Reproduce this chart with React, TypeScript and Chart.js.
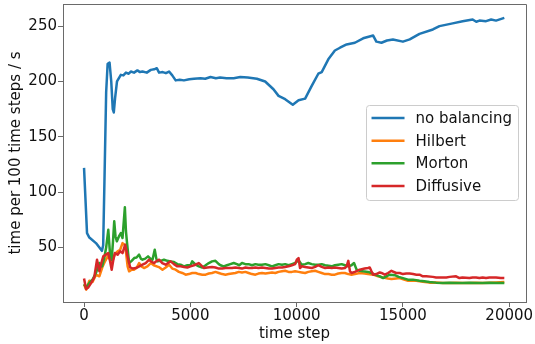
import React, { useEffect, useRef } from "react";
import { Chart, registerables } from "chart.js";

Chart.register(...registerables);

const xTicks = [0, 5000, 10000, 15000, 20000];
const yTicks = [50, 100, 150, 200, 250];
const seriesLabels = ["no balancing", "Hilbert", "Morton", "Diffusive"];
const seriesColors = ["#1f77b4", "#ff7f0e", "#2ca02c", "#d62728"];

const noBalancingSteps = [0, 140, 250, 560, 840, 900, 960, 1040, 1110, 1200, 1280, 1350, 1400, 1460, 1550, 1730, 1850, 1970, 2100, 2200, 2350, 2510, 2630, 2750, 2950, 3140, 3300, 3420, 3530, 3700, 3850, 4000, 4150, 4310, 4500, 4700, 4950, 5170, 5480, 5700, 5950, 6200, 6400, 6700, 7040, 7350, 7700, 8130, 8520, 8910, 9150, 9460, 9820, 10090, 10400, 10710, 11020, 11180, 11490, 11800, 12040, 12350, 12740, 13130, 13600, 13750, 13990, 14250, 14530, 15000, 15320, 15780, 16410, 16720, 17340, 17810, 18280, 18450, 18600, 18910, 19150, 19380, 19770];
const noBalancingTimes = [122, 63, 59, 54, 47, 52, 110, 190, 216, 217, 200, 175, 172, 185, 200, 206, 205.5, 208, 207, 209, 208, 210, 208.5, 209, 208, 210.5, 211, 212, 208, 208.5, 207.5, 209, 205.5, 201, 201.5, 201, 202, 202.5, 203, 202.5, 204, 203, 203.5, 203, 203, 204, 203.5, 202.5, 200, 193, 187, 184, 179, 183, 184.5, 196, 207, 208.5, 220, 228, 230.5, 233.5, 235, 239, 241.5, 236, 235, 237, 238, 236, 238, 243, 247, 250, 252.5, 254.5, 256, 254, 255, 254.5, 256, 255, 257.5];

const hilbertSteps = [0, 100, 250, 400, 560, 720, 875, 1000, 1110, 1200, 1300, 1450, 1580, 1700, 1810, 1935, 2050, 2120, 2240, 2360, 2480, 2590, 2700, 2820, 2980, 3140, 3280, 3420, 3550, 3690, 3840, 4000, 4150, 4310, 4460, 4620, 4780, 4930, 5090, 5250, 5400, 5560, 5720, 5870, 6020, 6180, 6340, 6500, 6650, 6800, 6960, 7120, 7280, 7430, 7590, 7740, 7900, 8060, 8200, 8370, 8530, 8690, 8840, 9000, 9150, 9310, 9460, 9620, 9780, 9930, 10090, 10240, 10400, 10550, 10710, 10870, 11020, 11180, 11340, 11500, 11650, 11800, 11960, 12120, 12270, 12430, 12580, 12740, 12970, 13200, 13360, 13600, 13830, 14070, 14300, 14460, 14680, 14850, 15050, 15240, 15450, 15630, 15940, 16250, 16560, 16880, 17190, 17500, 17800, 18130, 18440, 18750, 19070, 19380, 19770];
const hilbertTimes = [16.5, 12, 20, 19, 25.5, 24, 33, 38, 42, 40, 36, 44, 46.6, 48, 54, 52, 33, 28.5, 30, 30, 32, 36, 33, 31.5, 33, 36, 34, 33, 32, 30, 32, 34.5, 31, 30, 28, 27, 25.5, 26, 27, 27, 26, 25.5, 25.5, 26.5, 27, 28, 27, 26, 25.5, 26, 26.5, 27, 28, 27.5, 28, 27, 26, 25.5, 26.5, 27, 26.5, 27, 27.5, 27, 28, 28.5, 29, 28, 28, 28.5, 28, 27.5, 27, 28, 28.5, 29, 28, 27, 26, 26, 25.5, 25.5, 26.5, 27, 27, 26, 25.5, 26, 27, 26.5, 26, 25.5, 24, 23, 22, 21.5, 22, 22.4, 21, 20, 20, 20, 19, 18.3, 18.5, 18, 18, 18.2, 18, 18, 18.2, 18, 18.3, 18.5, 18.8];

const mortonSteps = [0, 100, 250, 400, 560, 720, 850, 950, 1040, 1140, 1220, 1300, 1360, 1420, 1480, 1545, 1640, 1730, 1810, 1920, 1970, 2015, 2120, 2240, 2360, 2470, 2590, 2670, 2750, 2880, 3010, 3120, 3220, 3325, 3400, 3450, 3600, 3760, 3920, 4070, 4230, 4390, 4540, 4700, 4860, 5010, 5090, 5250, 5400, 5560, 5720, 5870, 6020, 6180, 6340, 6420, 6570, 6720, 6880, 7040, 7190, 7300, 7430, 7590, 7740, 7900, 8060, 8200, 8370, 8530, 8690, 8840, 9000, 9150, 9310, 9460, 9620, 9780, 9930, 10090, 10240, 10400, 10550, 10710, 10870, 11020, 11180, 11340, 11500, 11650, 11800, 11960, 12120, 12270, 12430, 12580, 12700, 12820, 12970, 13130, 13360, 13520, 13680, 13910, 14070, 14220, 14380, 14620, 14800, 15000, 15240, 15470, 15780, 16000, 16250, 16560, 16880, 17190, 17500, 17810, 18130, 18440, 18750, 19070, 19380, 19770];
const mortonTimes = [17, 14, 18, 21, 27, 36, 33, 40.5, 50, 66, 45, 39, 55, 73.7, 60, 55.6, 60, 63, 58.6, 86.3, 65, 55.6, 36, 38, 40.5, 41, 43.6, 40, 39, 40, 42, 40, 39, 48, 40, 37.5, 38, 39, 38, 37.5, 37, 35, 34.5, 33, 34, 34, 37.5, 34.5, 33, 32, 34, 36, 37.5, 38, 35, 34, 33, 34, 35, 36, 35, 34, 36, 35, 35, 34, 35, 34.5, 34.5, 35, 34, 33, 34, 35, 34.5, 35, 34, 35, 36, 38.5, 34.5, 35, 36, 35, 34.5, 34.5, 35, 34, 33.5, 33, 34, 34.5, 35, 34, 33, 34, 36, 30, 29, 28.5, 28, 27, 25.5, 24, 22.4, 24, 25.5, 25, 23.5, 22.4, 21, 21, 20, 19.5, 18.8, 18.3, 18, 18.3, 18, 18, 18.2, 18, 18, 18.2, 18, 18];

const diffusiveSteps = [0, 95, 200, 330, 480, 610, 720, 800, 905, 1030, 1140, 1220, 1300, 1370, 1450, 1580, 1700, 1810, 1935, 2050, 2170, 2300, 2440, 2600, 2750, 2900, 3060, 3180, 3300, 3420, 3530, 3680, 3840, 3950, 4070, 4230, 4390, 4540, 4700, 4860, 5010, 5170, 5400, 5560, 5640, 5800, 6020, 6180, 6340, 6500, 6650, 6800, 6960, 7120, 7280, 7430, 7590, 7740, 7900, 8060, 8200, 8370, 8530, 8690, 8840, 9000, 9150, 9310, 9460, 9620, 9780, 9930, 10010, 10090, 10160, 10240, 10400, 10550, 10710, 10870, 11020, 11180, 11340, 11500, 11650, 11800, 11960, 12120, 12270, 12350, 12430, 12510, 12580, 12740, 12970, 13200, 13360, 13440, 13520, 13600, 13750, 13910, 13990, 14150, 14300, 14460, 14680, 14850, 15000, 15160, 15320, 15480, 15630, 15780, 15940, 16100, 16410, 16560, 16880, 17040, 17200, 17500, 17660, 17800, 18130, 18280, 18440, 18600, 18750, 18910, 19070, 19380, 19600, 19770];
const diffusiveTimes = [22, 12.5, 14, 17.9, 23, 39, 28.5, 35, 42, 43.6, 45, 38, 30, 38, 45, 43.6, 46.6, 45, 52.6, 42, 32, 31, 31.5, 33, 34.5, 36, 39, 37, 36, 38, 39, 36, 34.5, 36, 37.5, 35, 33, 33, 32.5, 32, 33, 34, 36, 33, 31.5, 32, 32.5, 32, 31, 31, 31.5, 31.5, 31.5, 32, 31.5, 31, 32, 31.5, 31.5, 32, 31.5, 32, 31.5, 31, 31, 31.5, 32, 32, 32.5, 33, 34, 35, 39, 40.5, 31.5, 33, 32.5, 32, 31.5, 32.5, 34, 32.5, 31.5, 32, 31.5, 32, 31.5, 31, 31.5, 33, 38, 28.5, 27, 28, 30, 31, 31.5, 32, 28.5, 25.5, 26, 27.5, 27, 25.5, 27, 29, 27, 27, 26, 26.5, 26.5, 26, 25.5, 25.5, 24, 24, 23.5, 23, 23, 23, 23.5, 24, 22.4, 23, 22.4, 23, 23, 22.5, 23, 22.4, 23, 23, 22.5, 22.4];

const xMin = -990;
const xMax = 20790;
const yMin = 0.8;
const yMax = 270;

const FONT = "'DejaVu Sans', sans-serif";
const SPINE = "#6a6a6a";
const LINE_W = 2.5;

const toPoints = (steps: number[], times: number[]) =>
  steps.map((s, i) => ({ x: s, y: times[i] }));

const frameAndLegend = {
  id: "frameAndLegend",
  afterDatasetsDraw(chart: any) {
    const { ctx, chartArea } = chart;
    ctx.save();
    ctx.strokeStyle = SPINE;
    ctx.lineWidth = 1;
    ctx.beginPath();
    ctx.moveTo(Math.round(chartArea.left) + 0.5, Math.round(chartArea.top) + 0.5);
    ctx.lineTo(Math.round(chartArea.right) + 0.5, Math.round(chartArea.top) + 0.5);
    ctx.lineTo(Math.round(chartArea.right) + 0.5, Math.round(chartArea.bottom) + 0.5);
    ctx.stroke();

    ctx.font = `15px ${FONT}`;
    const labels: string[] = chart.data.datasets.map((d: any) => d.label);
    const colors: string[] = chart.data.datasets.map((d: any) => d.borderColor);
    const maxW = Math.max(...labels.map((l) => ctx.measureText(l).width));
    const padL = 6, handle = 33, gap = 11, padR = 6;
    const rowH = 22.7, padT = 13, padB = 14;
    const boxW = padL + handle + gap + maxW + padR;
    const boxH = padT + rowH * (labels.length - 1) + padB;
    const right = chartArea.right - 8;
    const left = right - boxW;
    const top = (chartArea.top + chartArea.bottom) / 2 - boxH / 2 - 0.5;
    ctx.beginPath();
    if ((ctx as any).roundRect) {
      (ctx as any).roundRect(Math.round(left) + 0.5, Math.round(top) + 0.5, Math.round(boxW), Math.round(boxH), 3);
    } else {
      ctx.rect(Math.round(left) + 0.5, Math.round(top) + 0.5, Math.round(boxW), Math.round(boxH));
    }
    ctx.fillStyle = "rgba(255,255,255,0.8)";
    ctx.fill();
    ctx.strokeStyle = "#cccccc";
    ctx.lineWidth = 1;
    ctx.stroke();
    labels.forEach((label, i) => {
      const y = top + padT + i * rowH;
      ctx.strokeStyle = colors[i];
      ctx.lineWidth = LINE_W;
      ctx.lineCap = "butt";
      ctx.beginPath();
      ctx.moveTo(left + padL, y);
      ctx.lineTo(left + padL + handle, y);
      ctx.stroke();
      ctx.fillStyle = "#111";
      ctx.textAlign = "left";
      ctx.textBaseline = "middle";
      ctx.fillText(label, left + padL + handle + gap, y + 1);
    });
    ctx.restore();
  },
};

export default function App() {
  const canvasRef = useRef<HTMLCanvasElement | null>(null);

  useEffect(() => {
    const canvas = canvasRef.current;
    if (!canvas) return;
    Chart.defaults.font.family = FONT;
    const seriesData = [
      toPoints(noBalancingSteps, noBalancingTimes),
      toPoints(hilbertSteps, hilbertTimes),
      toPoints(mortonSteps, mortonTimes),
      toPoints(diffusiveSteps, diffusiveTimes),
    ];
    const chart = new Chart(canvas, {
      type: "line",
      data: {
        datasets: seriesLabels.map((label, i) => ({
          label,
          data: seriesData[i],
          borderColor: seriesColors[i],
          backgroundColor: seriesColors[i],
          borderWidth: LINE_W,
          pointRadius: 0,
          tension: 0,
          fill: false,
          borderJoinStyle: "round" as const,
          order: seriesLabels.length - i,
        })),
      },
      options: {
        animation: false,
        responsive: false,
        devicePixelRatio: 1,
        layout: { padding: { left: 0, right: 9, top: 4, bottom: 0 } },
        plugins: { legend: { display: false }, tooltip: { enabled: false } },
        scales: {
          x: {
            type: "linear",
            min: xMin,
            max: xMax,
            afterBuildTicks: (scale: any) => {
              scale.ticks = xTicks.map((v) => ({ value: v }));
            },
            afterFit: (scale: any) => {
              scale.height = 42;
              scale.paddingLeft = 0;
              scale.paddingRight = 0;
            },
            grid: {
              drawOnChartArea: false,
              drawTicks: true,
              tickLength: 5,
              tickColor: SPINE,
              tickWidth: 1,
            },
            border: { display: true, color: SPINE, width: 1 },
            ticks: {
              autoSkip: false,
              maxRotation: 0,
              padding: 0,
              color: "#111",
              font: { size: 15, family: FONT },
              callback: (v: any) => String(v),
            },
            title: {
              display: true,
              text: "time step",
              color: "#111",
              font: { size: 15, family: FONT },
              padding: { top: 0, bottom: 1 },
            },
          },
          y: {
            type: "linear",
            min: yMin,
            max: yMax,
            afterBuildTicks: (scale: any) => {
              scale.ticks = yTicks.map((v) => ({ value: v }));
            },
            afterFit: (scale: any) => {
              scale.width = 63;
              scale.paddingTop = 0;
              scale.paddingBottom = 0;
            },
            grid: {
              drawOnChartArea: false,
              drawTicks: true,
              tickLength: 5,
              tickColor: SPINE,
              tickWidth: 1,
            },
            border: { display: true, color: SPINE, width: 1 },
            ticks: {
              autoSkip: false,
              padding: 1,
              color: "#111",
              font: { size: 15, family: FONT },
              callback: (v: any) => String(v),
            },
            title: {
              display: true,
              text: "time per 100 time steps / s",
              color: "#111",
              font: { size: 15, family: FONT },
              padding: { top: 7, bottom: 0 },
            },
          },
        },
      },
      plugins: [frameAndLegend],
    });
    return () => chart.destroy();
  }, []);

  return (
    <div style={{ position: "fixed", left: 0, top: 0, width: 535, height: 344, background: "#fff" }}>
      <canvas ref={canvasRef} width={535} height={344} style={{ width: 535, height: 344, display: "block" }} />
    </div>
  );
}
